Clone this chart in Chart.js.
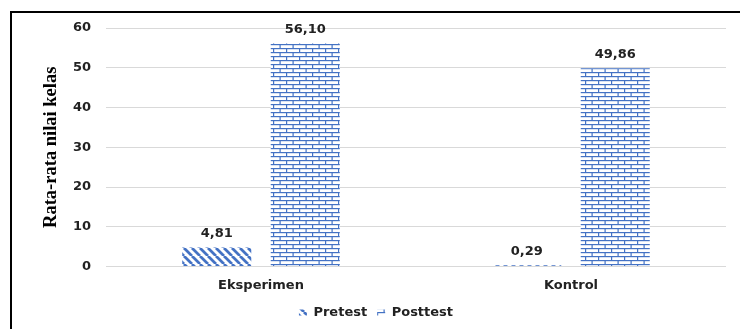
<!DOCTYPE html>
<html>
<head>
<meta charset="utf-8">
<script src="https://cdn.jsdelivr.net/npm/chart.js@4"></script>
<style>
  html, body { margin: 0; padding: 0; background: #fff; }
  #wrap { position: relative; width: 740px; height: 329px; overflow: hidden; }
  #frame { position: absolute; left: 10px; top: 11px; width: 740px; height: 340px;
           border-top: 2px solid #000; border-left: 2px solid #000; pointer-events: none; }
</style>
</head>
<body>
<div id="wrap">
  <canvas id="chart" width="740" height="329"></canvas>
  <div id="frame"></div>
</div>
<script>
// Chart data
const groups = ['Eksperimen', 'Kontrol'];
const pretest = [4.81, 0.29];
const posttest = [56.10, 49.86];
const yTicks = [0, 10, 20, 30, 40, 50, 60];

const blue = '#4472C4';
const canvas = document.getElementById('chart');
const ctx = canvas.getContext('2d');

// diagonal stripes for Pretest
function stripePattern() {
    const t = document.createElement('canvas');
    t.width = 8; t.height = 8;
    const c = t.getContext('2d');
    c.fillStyle = '#fff';
    c.fillRect(0, 0, 8, 8);
    c.strokeStyle = blue;
    c.lineWidth = 2.8;
    c.beginPath();
    for (let k = -8; k <= 16; k += 8) {
        c.moveTo(k, 0);
        c.lineTo(k + 8, 8);
    }
    c.stroke();
    return ctx.createPattern(t, 'repeat');
}

// brick pattern for Posttest
function brickPattern() {
    const t = document.createElement('canvas');
    t.width = 13; t.height = 8;
    const c = t.getContext('2d');
    c.fillStyle = '#fff';
    c.fillRect(0, 0, 13, 8);
    c.fillStyle = blue;
    c.fillRect(0, 0, 13, 1.2);
    c.fillRect(0, 4, 13, 1.2);
    c.fillRect(0, 0, 1.2, 4);
    c.fillRect(6.5, 4, 1.2, 4);
    return ctx.createPattern(t, 'repeat');
}

// value labels above bars, decimal comma
const valueLabels = {
    id: 'valueLabels',
    afterDatasetsDraw(chart) {
        const c = chart.ctx;
        c.save();
        c.font = 'bold 13px "DejaVu Sans", sans-serif';
        c.fillStyle = '#222';
        c.textAlign = 'center';
        c.textBaseline = 'bottom';
        chart.data.datasets.forEach((ds, i) => {
            chart.getDatasetMeta(i).data.forEach((bar, j) => {
                c.fillText(ds.data[j].toFixed(2).replace('.', ','), bar.x, bar.y - 7);
            });
        });
        c.restore();
    }
};

new Chart(canvas, {
    type: 'bar',
    data: {
        labels: groups,
        datasets: [
            { label: 'Pretest', data: pretest, backgroundColor: stripePattern(), borderWidth: 0 },
            { label: 'Posttest', data: posttest, backgroundColor: brickPattern(), borderWidth: 0 }
        ]
    },
    options: {
        responsive: false,
        animation: false,
        layout: { padding: { left: 26, right: 14, top: 28, bottom: 0 } },
        datasets: { bar: { categoryPercentage: 0.571, barPercentage: 0.78 } },
        scales: {
            x: {
                grid: { display: false, drawTicks: false },
                border: { display: false },
                ticks: { color: '#222', padding: 11, font: { family: 'DejaVu Sans', size: 13, weight: 'bold' } },
                afterFit: s => { s.height = 29.5; }
            },
            y: {
                min: 0,
                max: 60,
                afterBuildTicks: s => { s.ticks = yTicks.map(v => ({ value: v })); },
                grid: { color: '#d9d9d9', drawTicks: false },
                border: { display: false },
                ticks: { color: '#222', padding: 15, font: { family: 'DejaVu Sans', size: 13, weight: 'bold' } },
                title: {
                    display: true,
                    text: 'Rata-rata nilai kelas',
                    color: '#000',
                    padding: { top: 14, bottom: 0 },
                    font: { family: 'Liberation Serif', size: 18.5, weight: 'bold' }
                },
                afterFit: s => { s.width = 80; }
            }
        },
        plugins: {
            legend: {
                position: 'bottom',
                labels: {
                    boxWidth: 8,
                    boxHeight: 6,
                    padding: 10,
                    color: '#222',
                    font: { family: 'DejaVu Sans', size: 13, weight: 'bold' }
                }
            },
            tooltip: { enabled: false }
        }
    },
    plugins: [valueLabels]
});
</script>
</body>
</html>
